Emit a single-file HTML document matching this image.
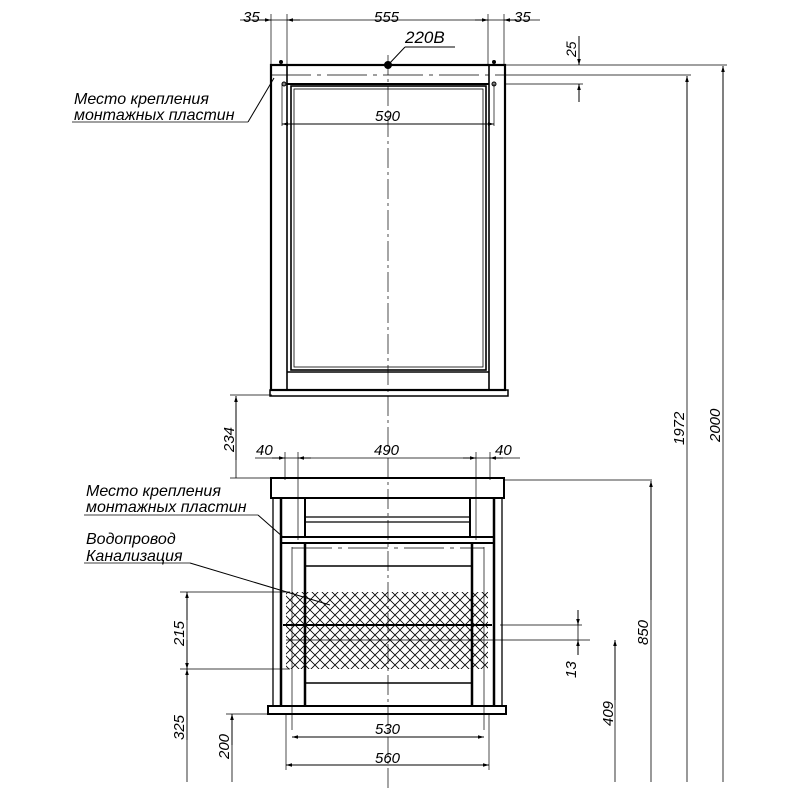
<!DOCTYPE html>
<html><head><meta charset="utf-8"><style>
html,body{margin:0;padding:0;background:#fff;}
svg{display:block;}
text{font-family:"Liberation Sans",sans-serif;font-style:italic;fill:#000;}
</style></head><body>
<svg width="800" height="800" viewBox="0 0 800 800" xmlns="http://www.w3.org/2000/svg">
<defs>
<marker id="a" viewBox="0 0 10 10" refX="10" refY="5" markerWidth="8" markerHeight="6" orient="auto-start-reverse" markerUnits="userSpaceOnUse"><path d="M0,2 L10,5 L0,8z" fill="#000"/></marker>
<pattern id="h" width="10" height="10" patternUnits="userSpaceOnUse"><path d="M0,0 L10,10 M10,0 L0,10" stroke="#000" stroke-width="0.8"/></pattern>
</defs>
<g stroke="#000" fill="none" stroke-width="1">
<line x1="240" y1="20" x2="540" y2="20" stroke-width="0.8"/>
<line x1="271" y1="14" x2="271" y2="66" stroke-width="0.7"/>
<line x1="287" y1="14" x2="287" y2="66" stroke-width="0.7"/>
<line x1="488" y1="14" x2="488" y2="66" stroke-width="0.7"/>
<line x1="504" y1="14" x2="504" y2="66" stroke-width="0.7"/>
<line x1="258" y1="20" x2="271" y2="20" marker-end="url(#a)"/>
<line x1="300" y1="20" x2="287" y2="20" marker-end="url(#a)"/>
<line x1="475" y1="20" x2="488" y2="20" marker-end="url(#a)"/>
<line x1="517" y1="20" x2="504" y2="20" marker-end="url(#a)"/>
<line x1="388" y1="65" x2="405" y2="47"/><line x1="405" y1="47" x2="455" y2="47"/>
<line x1="505" y1="65" x2="727" y2="65" stroke-width="0.7"/>
<line x1="505" y1="75" x2="691" y2="75" stroke-width="0.7"/>
<line x1="505" y1="84" x2="583" y2="84" stroke-width="0.7"/>
<line x1="579" y1="36" x2="579" y2="65" marker-end="url(#a)"/>
<line x1="579" y1="102" x2="579" y2="84" marker-end="url(#a)"/>
<rect x="271" y="65" width="234" height="325" stroke-width="2.2"/>
<rect x="270" y="390" width="238" height="6" stroke-width="1.5"/>
<line x1="287" y1="65" x2="287" y2="390" stroke-width="1.6"/>
<line x1="489" y1="65" x2="489" y2="390" stroke-width="1.6"/>
<line x1="287" y1="84" x2="489" y2="84" stroke-width="2"/>
<line x1="287" y1="372" x2="489" y2="372" stroke-width="1.5"/>
<rect x="291" y="86" width="195" height="284" stroke-width="1.6"/>
<rect x="294" y="89" width="189" height="278" stroke-width="0.8"/>
<line x1="271" y1="75" x2="505" y2="75" stroke-dasharray="40,6,4,6" stroke-width="0.8"/>
<circle cx="388" cy="65" r="3.5" fill="#000"/>
<circle cx="281" cy="62" r="1.5" fill="#000"/><circle cx="494" cy="62" r="1.5" fill="#000"/>
<circle cx="284" cy="84" r="2" fill="#888"/><circle cx="494" cy="84" r="2" fill="#888"/>
<line x1="282" y1="84" x2="282" y2="126" stroke-width="0.7"/>
<line x1="494" y1="84" x2="494" y2="126" stroke-width="0.7"/>
<line x1="282" y1="124" x2="494" y2="124" marker-start="url(#a)" marker-end="url(#a)"/>
<line x1="388" y1="55" x2="388" y2="790" stroke-dasharray="20,4,3,4" stroke-width="0.7"/>
<line x1="72" y1="122" x2="248" y2="122" stroke-width="0.7"/>
<line x1="248" y1="122" x2="274" y2="78"/>
<line x1="230" y1="395" x2="272" y2="395" stroke-width="0.7"/>
<line x1="236" y1="460" x2="236" y2="396" marker-end="url(#a)"/>
<line x1="236" y1="460" x2="236" y2="478" stroke-width="0.8"/>
<line x1="230" y1="478" x2="272" y2="478" stroke-width="0.7"/>
<line x1="255" y1="458" x2="520" y2="458" stroke-width="0.8"/>
<line x1="285" y1="452" x2="285" y2="480" stroke-width="0.7"/>
<line x1="298" y1="452" x2="298" y2="540" stroke-width="0.7"/>
<line x1="476" y1="452" x2="476" y2="540" stroke-width="0.7"/>
<line x1="490" y1="452" x2="490" y2="480" stroke-width="0.7"/>
<line x1="272" y1="458" x2="285" y2="458" marker-end="url(#a)"/>
<line x1="311" y1="458" x2="298" y2="458" marker-end="url(#a)"/>
<line x1="463" y1="458" x2="476" y2="458" marker-end="url(#a)"/>
<line x1="503" y1="458" x2="490" y2="458" marker-end="url(#a)"/>
<rect x="271" y="478" width="233" height="20" stroke-width="2"/>
<line x1="504" y1="480" x2="652" y2="480" stroke-width="0.7"/>
<line x1="273" y1="498" x2="273" y2="706" stroke-width="1.3"/>
<line x1="281" y1="498" x2="281" y2="706" stroke-width="2.5"/>
<line x1="502" y1="498" x2="502" y2="706" stroke-width="1.3"/>
<line x1="494" y1="498" x2="494" y2="706" stroke-width="2.5"/>
<line x1="305" y1="498" x2="305" y2="537" stroke-width="2"/>
<line x1="470" y1="498" x2="470" y2="537" stroke-width="2"/>
<line x1="305" y1="517" x2="470" y2="517" stroke-width="1.3"/>
<line x1="305" y1="522" x2="470" y2="522" stroke-width="1.3"/>
<rect x="281" y="537" width="213" height="6" stroke-width="2"/>
<line x1="305" y1="543" x2="305" y2="706" stroke-width="2.5"/>
<line x1="472" y1="543" x2="472" y2="706" stroke-width="2.5"/>
<line x1="305" y1="566" x2="472" y2="566" stroke-width="1.5"/>
<line x1="305" y1="683" x2="472" y2="683" stroke-width="1.5"/>
<rect x="286" y="592" width="202" height="77" fill="url(#h)" stroke="none"/>
<line x1="283" y1="625" x2="492" y2="625" stroke-width="2"/>
<line x1="292" y1="547" x2="292" y2="730" stroke-width="0.7"/>
<line x1="484" y1="547" x2="484" y2="730" stroke-width="0.7"/>
<line x1="292" y1="548" x2="484" y2="548" stroke-dasharray="40,6,4,6" stroke-width="0.8"/>
<line x1="286" y1="640" x2="590" y2="640" stroke-width="0.7"/>
<rect x="268" y="706" width="238" height="8" stroke-width="2"/>
<line x1="84" y1="515" x2="258" y2="515" stroke-width="0.7"/>
<line x1="258" y1="515" x2="283" y2="537"/>
<line x1="84" y1="563" x2="190" y2="563" stroke-width="0.7"/>
<line x1="190" y1="563" x2="330" y2="605"/>
<line x1="180" y1="592" x2="290" y2="592" stroke-width="0.7"/>
<line x1="180" y1="669" x2="290" y2="669" stroke-width="0.7"/>
<line x1="187" y1="620" x2="187" y2="592" marker-end="url(#a)"/>
<line x1="187" y1="640" x2="187" y2="669" marker-end="url(#a)"/>
<line x1="187" y1="620" x2="187" y2="640" stroke-width="0.8"/>
<line x1="187" y1="740" x2="187" y2="669" marker-end="url(#a)"/>
<line x1="187" y1="740" x2="187" y2="782" stroke-width="0.8"/>
<line x1="226" y1="714" x2="270" y2="714" stroke-width="0.7"/>
<line x1="232" y1="745" x2="232" y2="714" marker-end="url(#a)"/>
<line x1="232" y1="745" x2="232" y2="782" stroke-width="0.8"/>
<line x1="286" y1="714" x2="286" y2="770" stroke-width="0.7"/>
<line x1="489" y1="714" x2="489" y2="770" stroke-width="0.7"/>
<line x1="292" y1="737" x2="484" y2="737" marker-start="url(#a)" marker-end="url(#a)"/>
<line x1="286" y1="765" x2="489" y2="765" marker-start="url(#a)" marker-end="url(#a)"/>
<line x1="578" y1="610" x2="578" y2="625" marker-end="url(#a)"/>
<line x1="578" y1="655" x2="578" y2="640" marker-end="url(#a)"/>
<line x1="578" y1="625" x2="578" y2="640" stroke-width="0.8"/>
<line x1="500" y1="625" x2="582" y2="625" stroke-width="0.7"/>
<line x1="615" y1="700" x2="615" y2="640" marker-end="url(#a)"/>
<line x1="615" y1="700" x2="615" y2="782" stroke-width="0.8"/>
<line x1="651" y1="600" x2="651" y2="481" marker-end="url(#a)"/>
<line x1="651" y1="600" x2="651" y2="782" stroke-width="0.8"/>
<line x1="687" y1="300" x2="687" y2="76" marker-end="url(#a)"/>
<line x1="687" y1="300" x2="687" y2="782" stroke-width="0.8"/>
<line x1="723" y1="300" x2="723" y2="66" marker-end="url(#a)"/>
<line x1="723" y1="300" x2="723" y2="782" stroke-width="0.8"/>
</g>
<g font-size="15">
<text x="243" y="22">35</text>
<text x="374" y="22">555</text>
<text x="514" y="22">35</text>
<text x="405" y="43" font-size="17">220В</text>
<text x="375" y="121">590</text>
<text x="74" y="104" font-size="16">Место крепления</text>
<text x="74" y="120" font-size="16">монтажных пластин</text>
<text x="256" y="455">40</text>
<text x="374" y="455">490</text>
<text x="495" y="455">40</text>
<text x="86" y="496" font-size="16">Место крепления</text>
<text x="86" y="512" font-size="16">монтажных пластин</text>
<text x="86" y="544" font-size="16">Водопровод</text>
<text x="86" y="561" font-size="16">Канализация</text>
<text x="375" y="734">530</text>
<text x="375" y="763">560</text>
<text transform="translate(576,57) rotate(-90)" font-size="14">25</text>
<text transform="translate(234,452) rotate(-90)">234</text>
<text transform="translate(184,646) rotate(-90)">215</text>
<text transform="translate(184,740) rotate(-90)">325</text>
<text transform="translate(229,759) rotate(-90)">200</text>
<text transform="translate(576,678) rotate(-90)">13</text>
<text transform="translate(613,726) rotate(-90)">409</text>
<text transform="translate(648,645) rotate(-90)">850</text>
<text transform="translate(684,445) rotate(-90)">1972</text>
<text transform="translate(720,442) rotate(-90)">2000</text>
</g>
</svg>
</body></html>
